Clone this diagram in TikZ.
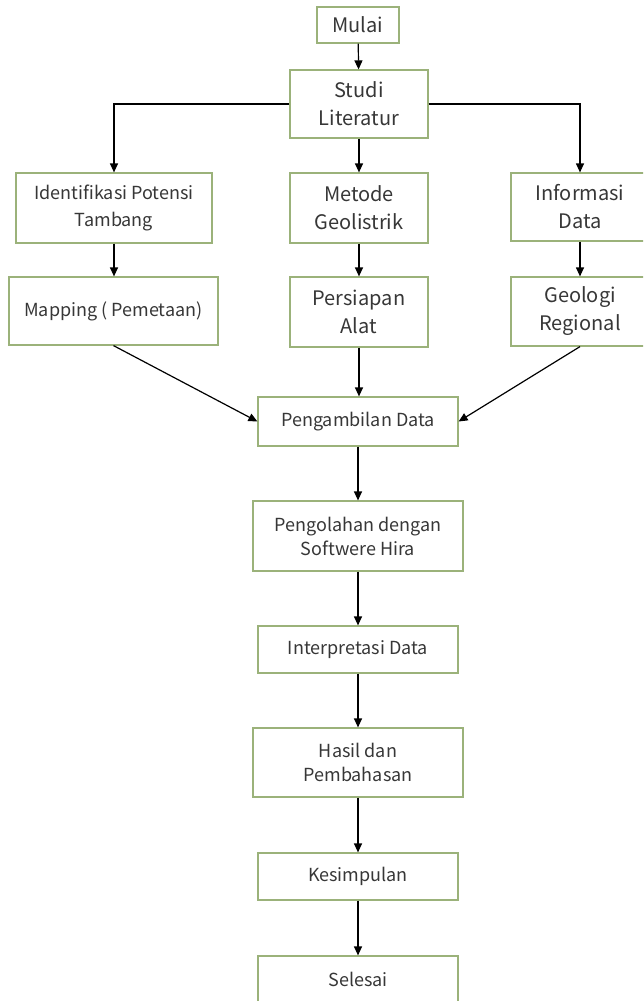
\documentclass[tikz,border=0pt]{standalone}
\usepackage{fontspec}
\setmainfont{Noto Sans CJK KR}
\usetikzlibrary{arrows.meta}
\definecolor{boxgreen}{RGB}{155,178,122}
\definecolor{txt}{RGB}{55,55,55}
\begin{document}
\begin{tikzpicture}[x=1pt,y=-1pt,
  bx/.style={draw=boxgreen, line width=1.2pt, fill=white, text=txt, align=center, inner sep=0pt, font=\fontsize{18}{27}\selectfont},
  bxl/.style={bx, font=\fontsize{20}{28}\selectfont},
  bxs/.style={bx, font=\fontsize{18}{24}\selectfont},
  arr/.style={draw=black, line width=1.2pt, -{Triangle[length=9pt,width=8pt]}}]
\useasboundingbox (0,0) rectangle (643,1001);
\fill[white] (0,0) rectangle (643,1001);
\clip (0,0) rectangle (643,1001);
\node[bxl, minimum width=82, minimum height=36] (mulai) at (358,25) {Mulai};
\node[bxl, minimum width=138, minimum height=68] (studi) at (359,104) {Studi\\Literatur};
\node[bx, minimum width=196, minimum height=70] (ident) at (114,208) {Identifikasi Potensi\\Tambang};
\node[bxl, minimum width=138, minimum height=70] (metode) at (359,208) {Metode\\Geolistrik};
\node[bxl, minimum width=138, minimum height=68] (info) at (580,207) {Informasi\\Data};
\node[bx, minimum width=209, minimum height=68] (mapping) at (113.5,311) {Mapping ( Pemetaan)};
\node[bxl, minimum width=138, minimum height=70] (persiapan) at (359,312) {Persiapan\\Alat};
\node[bxl, minimum width=138, minimum height=69] (geologi) at (580,311.5) {Geologi\\Regional};
\node[bxs, minimum width=200, minimum height=49] (ambil) at (358,421.5) {Pengambilan Data};
\node[bxs, minimum width=210, minimum height=70] (olah) at (358,536) {Pengolahan dengan\\Softwere Hira};
\node[bxs, minimum width=200, minimum height=47] (interp) at (358,649.5) {Interpretasi Data};
\node[bxs, minimum width=210, minimum height=69] (hasil) at (358,762.5) {Hasil dan\\Pembahasan};
\node[bxs, minimum width=200, minimum height=47] (kesim) at (358,876.5) {Kesimpulan};
\node[bxs, minimum width=200, minimum height=47] (selesai) at (358,979.5) {Selesai};
\draw[arr] (mulai) -- (studi);
\draw[arr] (studi.west) -| (ident.north);
\draw[arr] (studi.east) -| (info.north);
\draw[arr] (studi) -- (metode);
\draw[arr] (ident.south) -- (ident.south |- mapping.north);
\draw[arr] (metode) -- (persiapan);
\draw[arr] (info) -- (geologi);
\draw[arr] (mapping.south) -- (ambil.west);
\draw[arr] (persiapan.south) -- (persiapan.south |- ambil.north);
\draw[arr] (geologi.south) -- (ambil.east);
\draw[arr] (ambil) -- (olah);
\draw[arr] (olah) -- (interp);
\draw[arr] (interp) -- (hasil);
\draw[arr] (hasil) -- (kesim);
\draw[arr] (kesim) -- (selesai);
\end{tikzpicture}
\end{document}
